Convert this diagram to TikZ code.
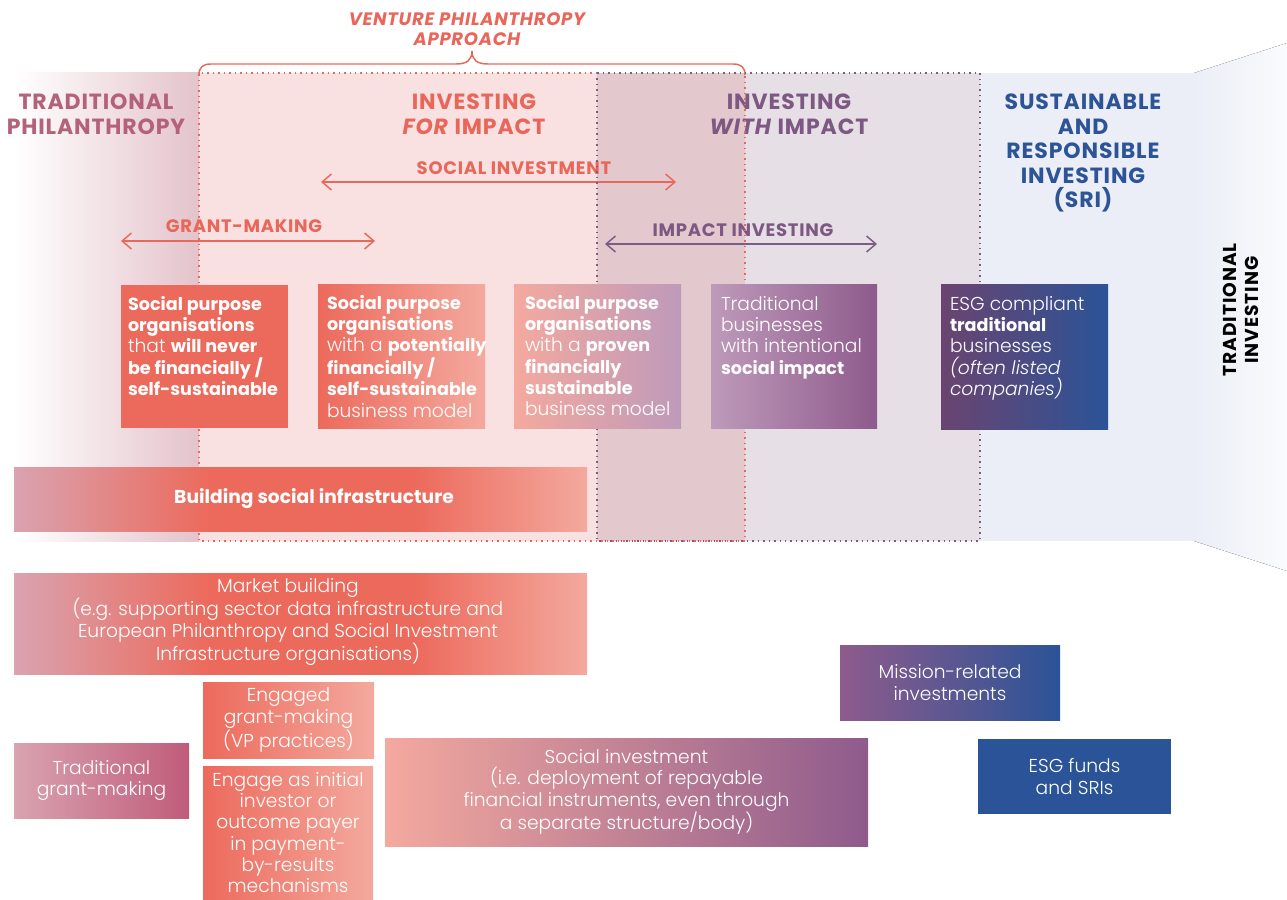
\documentclass[tikz,border=0pt]{standalone}
\usepackage{fontspec}
\setmainfont{Poppins}[UprightFont={* Light}, ItalicFont={* Light Italic}, BoldFont={* Bold}, BoldItalicFont={* Bold Italic}]
\usetikzlibrary{arrows.meta}

% palette
\definecolor{coral}{HTML}{EC6A5C}
\definecolor{salmon}{HTML}{F4A99E}
\definecolor{mauvepink}{HTML}{D9A3B0}
\definecolor{lavender}{HTML}{BE9ABA}
\definecolor{plum}{HTML}{8E5B8C}
\definecolor{darkplum}{HTML}{6A4470}
\definecolor{deepblue}{HTML}{2B5397}
\definecolor{rosewood}{HTML}{C05C7A}
\definecolor{vpfill}{HTML}{F9E1E1}
\definecolor{overlapfill}{HTML}{E3C9CD}
\definecolor{wifill}{HTML}{E6DFE6}
\definecolor{srifill}{HTML}{EBEEF7}
\definecolor{tpband}{HTML}{E4C3CB}
\definecolor{tptext}{HTML}{B4627A}
\definecolor{vptext}{HTML}{E8675A}
\definecolor{witext}{HTML}{7D5882}
\definecolor{sritext}{HTML}{2D5496}
\definecolor{vpline}{HTML}{E8695C}
\definecolor{wiline}{HTML}{7B5C82}

% mauve -> coral -> coral -> salmon, used by the two infrastructure bars
\pgfdeclarehorizontalshading{infrabar}{100bp}{color(0bp)=(mauvepink); color(25bp)=(mauvepink); color(42bp)=(coral); color(60bp)=(coral); color(75bp)=(salmon); color(100bp)=(salmon)}

\newcommand{\bodysize}{\fontsize{14}{16}\selectfont}
% bold phrases inside the organisation boxes
\newcommand{\bx}[1]{{\bfseries\fontsize{13.2}{16}\selectfont #1}}
% name, left, top, width, height (all in px units), style, text
\newcommand{\panelbox}[7]{%
  \node[panel, minimum width=#4*0.75pt, minimum height=#5*0.75pt, #6] (#1) at (#2,#3) {#7};}

\begin{document}
\begin{tikzpicture}[x=0.75pt, y=-0.75pt,
  every node/.style={inner sep=0pt, outer sep=0pt},
  panel/.style={rectangle, draw=none, anchor=north west, text=white, align=center, font=\bodysize},
  boxtxt/.style={text=white, align=left, anchor=north west, font=\bodysize},
  hdr/.style={align=center, font=\bfseries\fontsize{16.5}{18.4}\selectfont\addfontfeature{LetterSpace=4}},
  lbl/.style={font=\bfseries\fontsize{13.5}{15}\selectfont\addfontfeature{LetterSpace=4}},
  dots/.style={line width=1.1pt, dash pattern=on 1.1pt off 3pt},
  span/.style={line width=1.1pt, {Straight Barb[length=7pt,width=12pt]}-{Straight Barb[length=7pt,width=12pt]}},
]
\useasboundingbox (0,0) rectangle (1287,899);

% ---- background columns ----
\fill[left color=white, right color=tpband] (14,73) rectangle (199,541);
\fill[vpfill] (199,73) rectangle (597,541);
\fill[overlapfill] (597,73) rectangle (745,541);
\fill[wifill] (745,73) rectangle (980,541);
\fill[srifill] (980,73) rectangle (1195,541);
\fill[left color=srifill, right color=srifill!25!white] (1194,73) -- (1287,43) -- (1287,571) -- (1194,541) -- cycle;

% ---- column headings ----
\node[hdr, text=tptext] (tp) at (96,114) {TRADITIONAL\\PHILANTHROPY};
\node[hdr, text=vptext] (ifi) at (474,114) {INVESTING\\\textit{FOR} IMPACT};
\node[hdr, text=witext] (wi) at (789,114) {INVESTING\\\textit{WITH} IMPACT};
\node[hdr, text=sritext] (sri) at (1083,153) {SUSTAINABLE\\AND\\RESPONSIBLE\\INVESTING\\(SRI)};
\node[rotate=90, align=center, text=black, font=\bfseries\fontsize{14}{16.5}\selectfont\addfontfeature{LetterSpace=5}] (ti) at (1241,310) {TRADITIONAL\\INVESTING};

% ---- venture philanthropy brace ----
\node[align=center, text=vptext, font=\bfseries\itshape\fontsize{13.5}{14.6}\selectfont\addfontfeature{LetterSpace=4}] (vpa) at (467,29) {VENTURE PHILANTHROPY\\APPROACH};
\draw[vpline, line width=1.1pt] (199,75) .. controls (199,67) and (203,64) .. (211,64) -- (456,64)
  .. controls (467,64) and (472,60) .. (472,51) .. controls (472,60) and (477,64) .. (488,64)
  -- (733,64) .. controls (741,64) and (745,67) .. (745,75);

% ---- spectrum arrows ----
\node[lbl, text=vptext] (silbl) at (514,168) {SOCIAL INVESTMENT};
\coordinate (si-w) at (321,182);
\coordinate (si-e) at (676,182);
\draw[span, vpline] (si-w) -- (si-e);

\node[lbl, text=vptext] (gmlbl) at (244,226) {GRANT-MAKING};
\coordinate (gm-w) at (121,241);
\coordinate (gm-e) at (375,241);
\draw[span, vpline] (gm-w) -- (gm-e);

\node[lbl, text=witext] (iilbl) at (743,230) {IMPACT INVESTING};
\coordinate (ii-w) at (605,244);
\coordinate (ii-e) at (877,244);
\draw[span, wiline] (ii-w) -- (ii-e);

% ---- dotted column frames ----
\draw[dots, wiline] (597,73) rectangle (980,541);
\draw[dots, vpline] (597,73) -- (199,73) -- (199,541) -- (745,541) -- (745,73);

% ---- organisation types ----
\panelbox{b1}{121}{285}{167}{143}{fill=coral}{}
\panelbox{b2}{318}{284}{167}{144}{left color=coral, right color=salmon}{}
\panelbox{b3}{514}{284}{167}{144}{left color=salmon, right color=lavender}{}
\panelbox{b4}{711}{284}{166}{144}{left color=lavender, right color=plum}{}
\panelbox{b5}{941}{284}{167}{145}{left color=darkplum, right color=deepblue}{}

\node[boxtxt] (t1) at ([shift={(7,11)}]b1.north west)
  {\bx{Social purpose}\\\bx{organisations}\\that \bx{will never}\\\bx{be financially /}\\\bx{self-sustainable}};
\node[boxtxt] (t2) at ([shift={(9,11)}]b2.north west)
  {\bx{Social purpose}\\\bx{organisations}\\with a \bx{potentially}\\\bx{financially /}\\\bx{self-sustainable}\\business model};
\node[boxtxt] (t3) at ([shift={(11,11)}]b3.north west)
  {\bx{Social purpose}\\\bx{organisations}\\with a \bx{proven}\\\bx{financially}\\\bx{sustainable}\\business model};
\node[boxtxt] (t4) at ([shift={(10,12)}]b4.north west)
  {Traditional\\businesses\\with intentional\\\bx{social impact}};
\node[boxtxt] (t5) at ([shift={(9,12)}]b5.north west)
  {ESG compliant\\\bx{traditional}\\businesses\\\textit{(often listed}\\\textit{companies)}};

% ---- infrastructure bars ----
\panelbox{bsi}{14}{467}{573}{64}{shading=infrabar}{}
\node[text=white, anchor=base, font=\bfseries\bodysize] (bsitxt) at (314,503) {Building social infrastructure};
\panelbox{mkt}{14}{573}{573}{101}{shading=infrabar}{}
\node[text=white, align=center, font=\bodysize] (mkttxt) at (288,622)
  {Market building\\(e.g. supporting sector data infrastructure and\\European Philanthropy and Social Investment\\Infrastructure organisations)};

% ---- instruments ----
\panelbox{tgm}{14}{743}{175}{75}{left color=mauvepink, right color=rosewood}{Traditional\\grant-making}
\panelbox{egm}{203}{682}{171}{76}{left color=coral, right color=salmon}{Engaged\\grant-making\\(VP practices)}
\panelbox{eii}{203}{766}{170}{133}{left color=coral, right color=salmon}{Engage as initial\\investor or\\outcome payer\\in payment-\\by-results\\mechanisms}
\panelbox{sinv}{385}{738}{483}{108}{left color=salmon, middle color=lavender, right color=plum}{Social investment\\(i.e. deployment of repayable\\financial instruments, even through\\a separate structure/body)}
\panelbox{mri}{840}{645}{220}{75}{left color=plum, right color=deepblue}{Mission-related\\investments}
\panelbox{esg}{978}{739}{193}{75}{fill=deepblue}{ESG funds\\and SRIs}

\end{tikzpicture}
\end{document}
